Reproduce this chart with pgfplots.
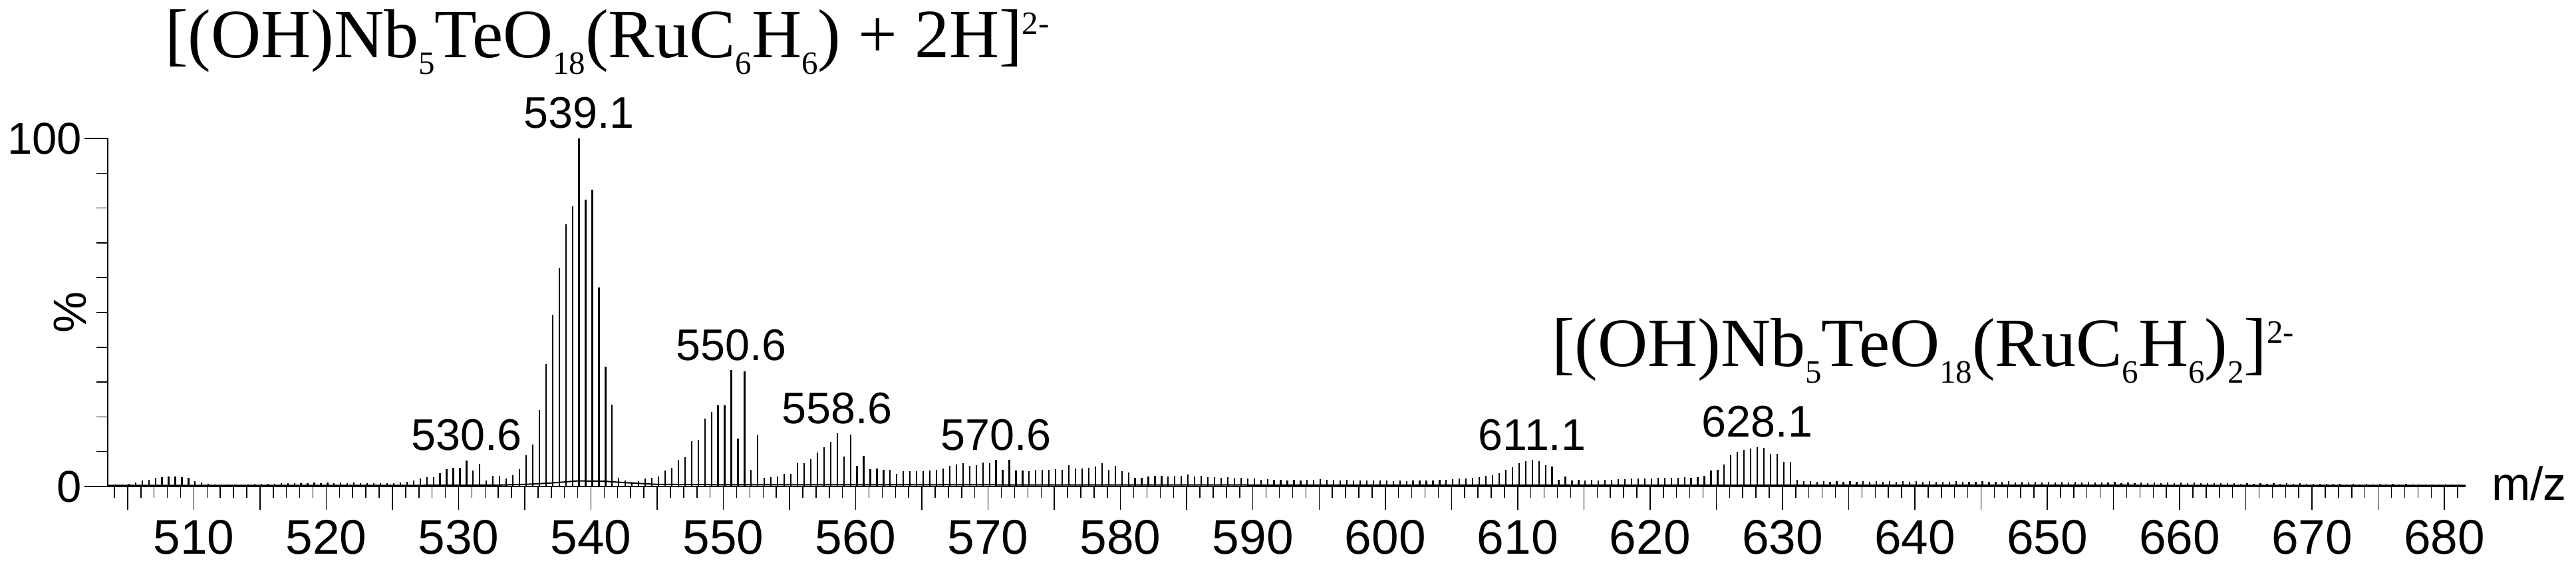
\documentclass[border=0pt]{standalone}
\usepackage{pgfplots}
\pgfplotsset{compat=1.18}
\usepackage{pgfplotstable}
\usepackage{fontspec}
\setmainfont{Liberation Sans}
\newfontfamily\seriffont{Liberation Serif}
\newcommand\sub[1]{\raisebox{-5pt}{\fontsize{9.8}{9.8}\selectfont #1}}
\newcommand\sups[1]{\raisebox{7pt}{\fontsize{9.8}{9.8}\selectfont #1}}
\pgfplotstableread{
mz h
503.6 0.4
504.1 0.5
504.6 0.6
505.1 0.8
505.6 1.1
506.1 1.8
506.6 2.0
507.1 2.4
507.6 2.6
508.1 2.9
508.6 2.9
509.1 2.6
509.6 2.4
510.1 1.6
510.6 1.1
511.1 0.8
511.6 0.6
512.1 0.5
512.6 0.5
513.1 0.5
513.6 0.6
514.1 0.6
514.6 0.7
515.1 0.7
515.6 0.8
516.1 0.8
516.6 0.9
517.1 0.9
517.6 0.9
518.1 1.0
518.6 1.0
519.1 1.1
519.6 1.0
520.1 1.1
520.6 1.0
521.1 1.1
521.6 1.0
522.1 1.2
522.6 1.0
523.1 1.0
523.6 0.9
524.1 1.0
524.6 1.0
525.1 0.9
525.6 1.2
526.1 1.4
526.6 1.7
527.1 2.2
527.6 2.7
528.1 2.7
528.6 3.9
529.1 5.0
529.6 5.4
530.1 5.4
530.6 7.5
531.1 4.6
531.6 6.5
532.1 1.7
532.6 3.0
533.1 3.0
533.6 2.2
534.1 3.3
534.6 5.0
535.1 9.0
535.6 12.0
536.1 22.0
536.6 35.2
537.1 49.3
537.6 62.7
538.1 75.3
538.6 80.5
539.1 100
539.6 82.4
540.1 85.3
540.6 57.1
541.1 34.5
541.6 23.6
542.1 2.5
542.6 1.8
543.1 1.3
543.6 1.5
544.1 2.2
544.6 2.4
545.1 2.8
545.6 4.5
546.1 5.4
546.6 7.6
547.1 8.5
547.6 13.0
548.1 13.4
548.6 19.5
549.1 21.4
549.6 23.4
550.1 23.4
550.6 33.4
551.1 13.8
551.6 33.0
552.1 4.8
552.6 14.7
553.1 2.5
553.6 2.6
554.1 2.8
554.6 3.6
555.1 3.6
555.6 6.7
556.1 6.6
556.6 7.9
557.1 9.8
557.6 11.2
558.1 12.9
558.6 15.2
559.1 8.6
559.6 14.9
560.1 5.9
560.6 8.7
561.1 5.0
561.6 5.1
562.1 4.8
562.6 4.8
563.1 3.6
563.6 4.4
564.1 4.3
564.6 4.3
565.1 4.4
565.6 4.6
566.1 4.8
566.6 5.2
567.1 6.0
567.6 6.4
568.1 6.6
568.6 6.0
569.1 6.1
569.6 6.9
570.1 6.7
570.6 7.6
571.1 4.8
571.6 7.6
572.1 4.5
572.6 4.6
573.1 4.3
573.6 4.7
574.1 4.8
574.6 4.8
575.1 4.9
575.6 4.8
576.1 6.1
576.6 5.1
577.1 5.1
577.6 5.4
578.1 5.7
578.6 6.6
579.1 4.8
579.6 5.9
580.1 4.3
580.6 4.0
581.1 2.5
581.6 2.5
582.1 2.9
582.6 3.0
583.1 3.0
583.6 2.9
584.1 3.0
584.6 3.1
585.1 3.4
585.6 2.8
586.1 3.0
586.6 2.6
587.1 2.7
587.6 2.5
588.1 2.6
588.6 2.4
589.1 2.4
589.6 2.2
590.1 2.3
590.6 2.0
591.1 2.1
591.6 1.9
592.1 2.0
592.6 1.8
593.1 1.9
593.6 1.8
594.1 2.0
594.6 2.0
595.1 2.1
595.6 1.9
596.1 2.0
596.6 1.8
597.1 1.9
597.6 1.7
598.1 1.8
598.6 1.7
599.1 1.7
599.6 1.7
600.1 1.8
600.6 1.6
601.1 1.7
601.6 1.6
602.1 1.8
602.6 1.7
603.1 1.8
603.6 1.8
604.1 1.9
604.6 2.0
605.1 2.1
605.6 2.2
606.1 2.3
606.6 2.5
607.1 2.6
607.6 3.0
608.1 3.3
608.6 3.8
609.1 4.7
609.6 5.6
610.1 6.7
610.6 7.2
611.1 7.6
611.6 7.2
612.1 6.1
612.6 5.8
613.1 2.0
613.6 2.8
614.1 1.8
614.6 1.9
615.1 1.8
615.6 1.9
616.1 1.8
616.6 2.0
617.1 1.9
617.6 2.1
618.1 2.1
618.6 2.2
619.1 2.2
619.6 2.3
620.1 2.3
620.6 2.4
621.1 2.4
621.6 2.5
622.1 2.5
622.6 2.6
623.1 2.5
623.6 2.7
624.1 3.0
624.6 4.6
625.1 4.8
625.6 6.4
626.1 9.0
626.6 10.0
627.1 10.6
627.6 10.9
628.1 11.3
628.6 11.0
629.1 9.4
629.6 9.3
630.1 7.0
630.6 7.0
631.1 2.0
631.6 1.6
632.1 1.5
632.6 1.4
633.1 1.5
633.6 1.4
634.1 1.5
634.6 1.4
635.1 1.6
635.6 1.4
636.1 1.5
636.6 1.3
637.1 1.5
637.6 1.4
638.1 1.6
638.6 1.4
639.1 1.5
639.6 1.3
640.1 1.6
640.6 1.4
641.1 1.5
641.6 1.3
642.1 1.4
642.6 1.3
643.1 1.5
643.6 1.3
644.1 1.4
644.6 1.3
645.1 1.5
645.6 1.3
646.1 1.4
646.6 1.3
647.1 1.5
647.6 1.2
648.1 1.4
648.6 1.2
649.1 1.4
649.6 1.2
650.1 1.3
650.6 1.2
651.1 1.4
651.6 1.1
652.1 1.3
652.6 1.1
653.1 1.3
653.6 1.1
654.1 1.2
654.6 1.1
655.1 1.3
655.6 1.0
656.1 1.2
656.6 1.0
657.1 1.2
657.6 1.0
658.1 1.1
658.6 1.0
659.1 1.2
659.6 1.0
660.1 1.1
660.6 0.9
661.1 1.1
661.6 0.9
662.1 1.0
662.6 0.9
663.1 1.0
663.6 0.9
664.1 1.0
664.6 0.8
665.1 1.0
665.6 0.8
666.1 0.9
666.6 0.8
667.1 0.9
667.6 0.8
668.1 0.9
668.6 0.7
669.1 0.9
669.6 0.7
670.1 0.8
670.6 0.7
671.1 0.8
671.6 0.7
672.1 0.8
672.6 0.6
673.1 0.8
673.6 0.6
674.1 0.7
674.6 0.6
675.1 0.7
675.6 0.6
676.1 0.7
676.6 0.6
677.1 0.7
677.6 0.5
678.1 0.6
678.6 0.5
679.1 0.6
679.6 0.5
680.1 0.6
680.6 0.5
681.1 0.6
}\peaks
\begin{document}
\begin{tikzpicture}
\begin{axis}[
  at={(0pt,0pt)}, anchor=south west,
  scale only axis, width=709pt, height=104.6pt,
  xmin=503.5, xmax=681.6, ymin=0, ymax=100,
  clip=false,
  axis lines=left,
  axis line style={-, line width=0.55pt, black},
  tick align=outside,
  xtick={505,510,...,680},
  xticklabels={,510,,520,,530,,540,,550,,560,,570,,580,,590,,600,,610,,620,,630,,640,,650,,660,,670,,680},
  minor xtick={504,505,...,681},
  ytick={0,100},
  minor ytick={10,20,...,90},
  major tick length=7pt, minor tick length=3.4pt,
  every tick/.style={line width=0.3pt, black},
  /pgf/number format/assume math mode=true,
  xticklabel style={font=\fontsize{14.6}{14.6}\selectfont, anchor=north, inner sep=0pt, yshift=-3pt},
  yticklabel style={font=\fontsize{13.4}{13.4}\selectfont, anchor=east, inner sep=0pt, xshift=-0.6pt},
]
\addplot[ycomb, line width=0.45pt, black, mark=none] table[x=mz, y=h] {\peaks};
\addplot[line width=0.4pt, black, mark=none] coordinates {
 (503.5,0.3) (525,0.3) (533,0.4) (535,0.6) (537,1.0) (539,1.6) (541,1.5) (543,1.0) (545,0.6) (550,0.5) (560,0.5) (600,0.4) (681.6,0.3)};
\begin{scope}[every node/.style={anchor=base, inner sep=0pt, font=\fontsize{13.3}{13.3}\selectfont}]
\node at (axis cs:539.1,100) [yshift=3pt] {539.1};
\node at (axis cs:530.6,7.5) [yshift=3pt] {530.6};
\node at (axis cs:550.6,33.4) [yshift=3pt] {550.6};
\node at (axis cs:558.6,15.2) [yshift=3pt] {558.6};
\node at (axis cs:570.6,7.6) [yshift=3pt] {570.6};
\node at (axis cs:611.1,7.6) [yshift=3pt] {611.1};
\node at (axis cs:628.1,11.3) [yshift=3pt] {628.1};
\end{scope}
\node[xshift=-6.2pt, rotate=90, anchor=south, inner sep=0pt, font=\fontsize{14}{14}\selectfont] at (rel axis cs:0,0.5) {\%};
\node[anchor=base west, inner sep=0pt, font=\fontsize{14}{14}\selectfont] at (rel axis cs:1,0) [xshift=7.6pt, yshift=-4.2pt] {m/z};
\end{axis}
\node[anchor=base west, inner sep=0pt, font=\seriffont\fontsize{20.8}{20.8}\selectfont] at (17pt,128.8pt) {[(OH)Nb\sub{5}TeO\sub{18}(RuC\sub{6}H\sub{6}) + 2H]\sups{2-}};
\node[anchor=base west, inner sep=0pt, font=\seriffont\fontsize{20.8}{20.8}\selectfont] at (434pt,36pt) {[(OH)Nb\sub{5}TeO\sub{18}(RuC\sub{6}H\sub{6})\sub{2}]\sups{2-}};
\pgfresetboundingbox
\path[use as bounding box] (-32.4pt,-26.6pt) rectangle (742.2pt,146.2pt);
\end{tikzpicture}
\end{document}
